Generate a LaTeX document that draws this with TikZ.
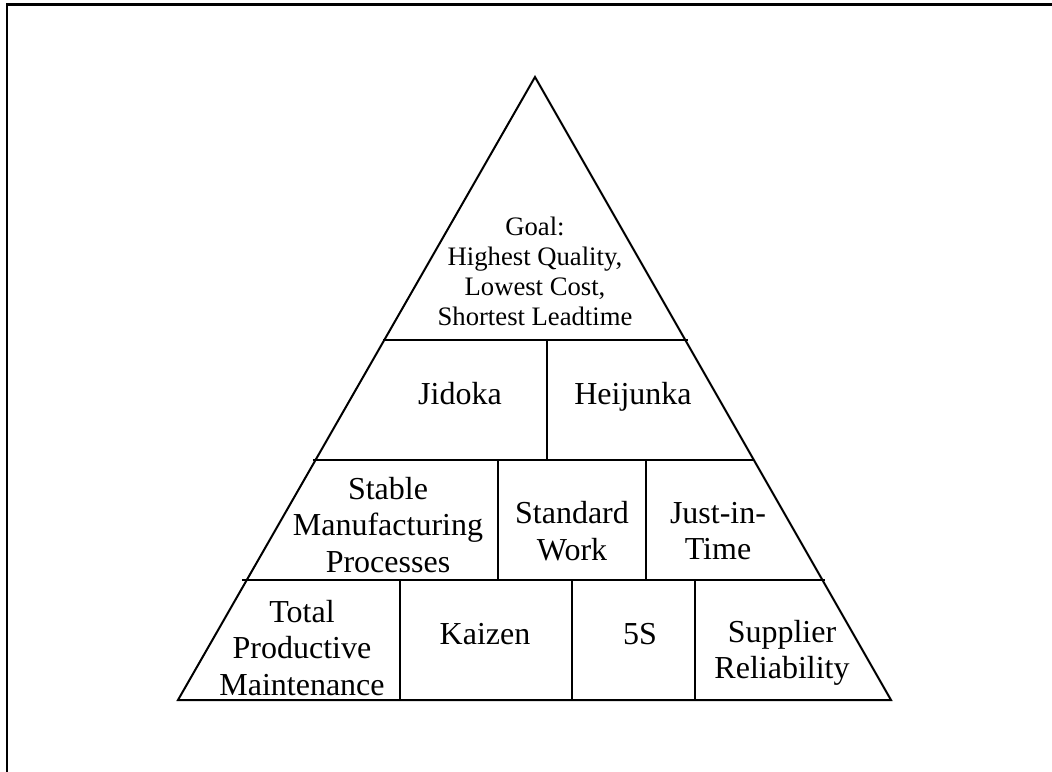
\documentclass[tikz,border=0pt]{standalone}
\usepackage{fontspec}
\setmainfont{Liberation Serif}
\begin{document}
\begin{tikzpicture}[x=0.75pt,y=-0.75pt,
  edge/.style={line width=1.5pt,line join=miter},
  lbl/.style={align=center,inner sep=0pt,font=\fontsize{24}{27.4}\selectfont},
  onelbl/.style={lbl,anchor=base},
  goallbl/.style={align=center,inner sep=0pt,font=\fontsize{20}{22.5}\selectfont}]
\useasboundingbox (0,0) rectangle (1052,771);
\begin{scope}
\clip (0,0) rectangle (1052,771);
\draw[line width=1.6pt] (7,4.5) rectangle (1070,790);
\end{scope}

% pyramid outline
\coordinate (apex) at (535,77);
\coordinate (bl) at (178,700);
\coordinate (br) at (891,700);
\draw[edge] (bl) -- (apex) -- (br) -- cycle;

% tier boundaries
\draw[edge] (383,340) -- (688,340);
\draw[edge] (313,460) -- (754,460);
\draw[edge] (242,580) -- (825,580);

% cell dividers
\draw[edge] (547,340) -- (547,460);
\draw[edge] (498,460) -- (498,580);
\draw[edge] (646,460) -- (646,580);
\draw[edge] (400,580) -- (400,700);
\draw[edge] (572,580) -- (572,700);
\draw[edge] (695,580) -- (695,700);

% labels
\node[goallbl] (goal) at (535,271) {Goal:\\Highest Quality,\\Lowest Cost,\\Shortest Leadtime};
\node[onelbl] (jidoka) at (460,404) {Jidoka};
\node[onelbl] (heijunka) at (633,404) {Heijunka};
\node[lbl] (stable) at (388,525) {Stable\\Manufacturing\\Processes};
\node[lbl] (stdwork) at (572,531) {Standard\\Work};
\node[lbl] (jit) at (718,531) {Just-in-\\Time};
\node[lbl] (tpm) at (302,648) {Total\\Productive\\Maintenance};
\node[onelbl] (kaizen) at (485,644) {Kaizen};
\node[onelbl] (fives) at (640,644) {5S};
\node[lbl] (supplier) at (782,653) {Supplier\\Reliability};
\end{tikzpicture}
\end{document}
